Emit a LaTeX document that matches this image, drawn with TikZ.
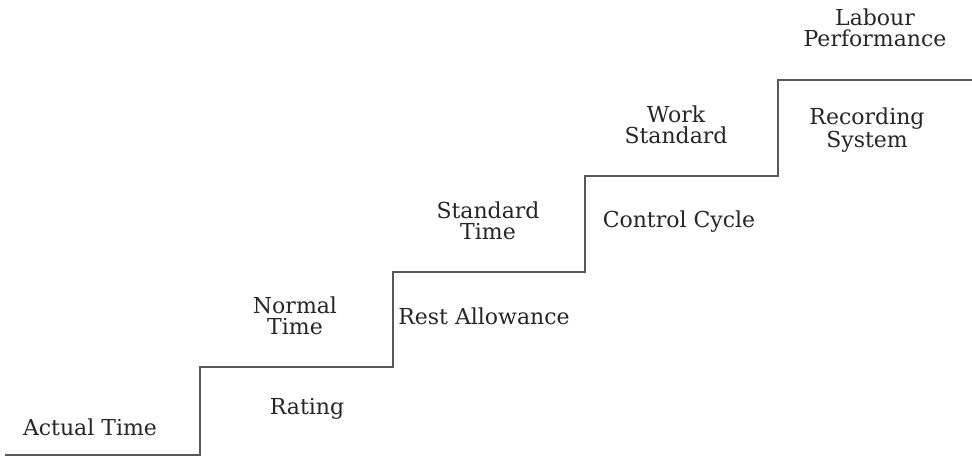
\documentclass[tikz,border=0pt]{standalone}
\usepackage{fontspec}
\setmainfont{DejaVu Serif}
\begin{document}
\begin{tikzpicture}[x=0.5pt,y=-0.5pt,
  lbl/.style={font=\fontsize{11}{10.3}\selectfont, align=center, inner sep=0pt, text=black!85},
  stair/.style={draw=black!65, line width=0.6pt}]
\useasboundingbox (0,0) rectangle (972,457);
% corners of the staircase
\coordinate (s0) at (5,455);
\coordinate (s1) at (200,455);
\coordinate (s2) at (200,367);
\coordinate (s3) at (393,367);
\coordinate (s4) at (393,272);
\coordinate (s5) at (585,272);
\coordinate (s6) at (585,176);
\coordinate (s7) at (778,176);
\coordinate (s8) at (778,80);
\coordinate (s9) at (972,80);
\draw[stair] (s0) -- (s1) -- (s2) -- (s3) -- (s4) -- (s5) -- (s6) -- (s7) -- (s8) -- (s9);
% labels
\node[lbl] (actual) at (90,427) {Actual Time};
\node[lbl] (rating) at (307,409) {Rating};
\node[lbl] (normal) at (295,316) {Normal\\Time};
\node[lbl] (rest) at (484,316) {Rest Allowance};
\node[lbl] (standard) at (488,221) {Standard\\Time};
\node[lbl] (control) at (679,222) {Control Cycle};
\node[lbl] (work) at (676,125) {Work\\Standard};
\node[lbl] (recording) at (867,130) {Recording\\System};
\node[lbl] (labour) at (875,28) {Labour\\Performance};
\end{tikzpicture}
\end{document}
